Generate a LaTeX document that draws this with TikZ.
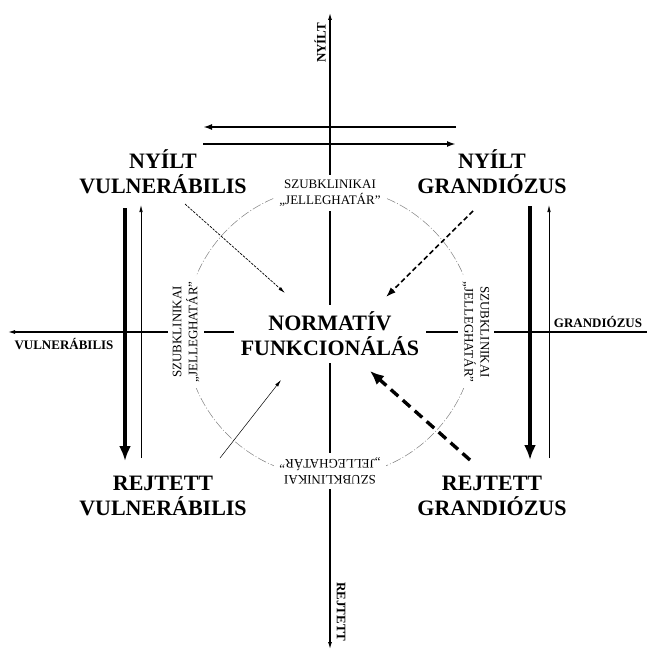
\documentclass[tikz,border=0pt]{standalone}
\usepackage{fontspec}
\setmainfont{Liberation Serif}
\usetikzlibrary{arrows.meta}
\tikzset{
  corner/.style={font=\fontsize{22}{25}\selectfont\bfseries,align=center,inner sep=2pt},
  center/.style={font=\fontsize{22}{25}\selectfont\bfseries,align=center,fill=white,inner sep=7pt},
  axislabel/.style={font=\fontsize{13}{15}\selectfont\bfseries,inner sep=1pt},
  subclin/.style={font=\fontsize{13}{16}\selectfont,align=center,fill=white,inner sep=5pt},
  axis/.style={line width=1.1pt},
  border/.style={gray,line width=0.5pt,dash pattern=on 9pt off 2pt on 1pt off 2pt},
  pairarrow/.style={line width=1.8pt,-{Latex[length=9pt,width=6pt]}},
  fatarrow/.style={line width=3.6pt,-{Latex[length=15pt,width=12pt]}},
  slimarrow/.style={line width=0.7pt,-{Latex[length=7pt,width=3.5pt]}}
}
\begin{document}
\begin{tikzpicture}[x=1pt,y=-1pt]
  \useasboundingbox (0,0) rectangle (647,650);
  %% axes
  \coordinate (ytop) at (330,13);
  \coordinate (ybot) at (330,649);
  \coordinate (xleft) at (8,332);
  \coordinate (xright) at (647,332);
  \draw[axis,{Latex[length=7pt,width=4pt]}-{Latex[length=7pt,width=4pt]}] (ybot) -- (ytop);
  \draw[axis,{Latex[length=7pt,width=4pt]}-] (xleft) -- (xright);
  %% subclinical border
  \draw[border] (330,332) circle (145);
  %% labels of the axes
  \node[axislabel,rotate=90] (lny) at (320,43) {NYÍLT};
  \node[axislabel,rotate=-90] (lrj) at (341,612) {REJTETT};
  \node[axislabel] (lvu) at (64,344) {VULNERÁBILIS};
  \node[axislabel] (lgr) at (598,322) {GRANDIÓZUS};
  %% subclinical labels
  \node[subclin] (sztop) at (330,193) {SZUBKLINIKAI\\„JELLEGHATÁR”};
  \node[subclin,rotate=180] (szbot) at (330,471) {SZUBKLINIKAI\\„JELLEGHATÁR”};
  \node[subclin,rotate=90] (szleft) at (186,332) {SZUBKLINIKAI\\„JELLEGHATÁR”};
  \node[subclin,rotate=-90] (szright) at (476,332) {SZUBKLINIKAI\\„JELLEGHATÁR”};
  %% center and corners
  \node[center] (norm) at (330,334) {NORMATÍV\\FUNKCIONÁLÁS};
  \node[corner] (nv) at (163,172) {NYÍLT\\VULNERÁBILIS};
  \node[corner] (ng) at (492,172) {NYÍLT\\GRANDIÓZUS};
  \node[corner] (rv) at (163,496) {REJTETT\\VULNERÁBILIS};
  \node[corner] (rg) at (492,496) {REJTETT\\GRANDIÓZUS};
  %% top pair
  \coordinate (pl1) at (203,127);
  \coordinate (pr1) at (456,127);
  \coordinate (pl2) at (203,144);
  \coordinate (pr2) at (456,144);
  \draw[pairarrow] (pr1) -- (pl1);
  \draw[pairarrow] (pl2) -- (pr2);
  %% side pairs
  \coordinate (lv1) at (125,208);
  \coordinate (lv2) at (125,461);
  \coordinate (lt1) at (141,458);
  \coordinate (lt2) at (141,205);
  \draw[fatarrow] (lv1) -- (lv2);
  \draw[slimarrow] (lt1) -- (lt2);
  \coordinate (rv1) at (530,206);
  \coordinate (rv2) at (530,460);
  \coordinate (rt1) at (549,458);
  \coordinate (rt2) at (549,205);
  \draw[fatarrow] (rv1) -- (rv2);
  \draw[slimarrow] (rt1) -- (rt2);
  %% towards the norm
  \coordinate (dnv) at (185,204);
  \coordinate (env) at (285,293);
  \draw[slimarrow,dash pattern=on 2.5pt off 1.2pt] (dnv) -- (env);
  \coordinate (dng) at (473,211);
  \coordinate (eng) at (386,297);
  \draw[line width=1.6pt,dash pattern=on 5pt off 3pt,-{Latex[length=10pt,width=7pt]}] (dng) -- (eng);
  \coordinate (drv) at (220,458);
  \coordinate (erv) at (281,380);
  \draw[slimarrow,line width=0.5pt] (drv) -- (erv);
  \coordinate (drg) at (470,460);
  \coordinate (erg) at (370,371);
  \draw[line width=3.4pt,dash pattern=on 10pt off 6pt,-{Latex[length=14pt,width=12pt]}] (drg) -- (erg);
\end{tikzpicture}
\end{document}
